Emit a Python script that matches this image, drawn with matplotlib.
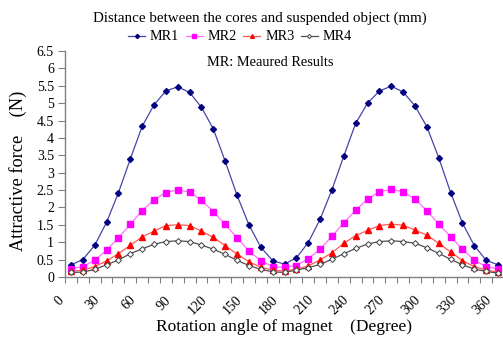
import matplotlib
matplotlib.use("Agg")
import matplotlib.pyplot as plt
import matplotlib.transforms as mtransforms
import numpy as np

plt.rcParams["font.family"] = ["Liberation Serif", "DejaVu Serif"]

# rotation angle in degrees, one category every 10 degrees
angles = list(range(0, 361, 10))
tick_labels = [str(a) if a % 30 == 0 else "" for a in angles]

mr1 = [0.35, 0.50, 0.91, 1.57, 2.42, 3.39, 4.33, 4.95, 5.35, 5.47, 5.31, 4.88, 4.26,
       3.33, 2.35, 1.50, 0.86, 0.47, 0.37, 0.55, 0.99, 1.66, 2.51, 3.48, 4.42, 5.00,
       5.35, 5.49, 5.32, 4.92, 4.32, 3.43, 2.43, 1.55, 0.90, 0.48, 0.35]
mr2 = [0.23, 0.30, 0.48, 0.77, 1.13, 1.51, 1.91, 2.22, 2.43, 2.51, 2.44, 2.21, 1.88,
       1.51, 1.13, 0.75, 0.47, 0.30, 0.28, 0.33, 0.52, 0.80, 1.17, 1.56, 1.92, 2.24,
       2.45, 2.52, 2.45, 2.24, 1.91, 1.52, 1.16, 0.80, 0.48, 0.30, 0.23]
mr3 = [0.17, 0.19, 0.30, 0.46, 0.67, 0.91, 1.15, 1.32, 1.48, 1.50, 1.48, 1.32, 1.14,
       0.90, 0.66, 0.44, 0.28, 0.20, 0.17, 0.22, 0.32, 0.49, 0.70, 0.97, 1.19, 1.34,
       1.48, 1.52, 1.49, 1.35, 1.20, 0.97, 0.72, 0.47, 0.30, 0.20, 0.14]
mr4 = [0.13, 0.14, 0.22, 0.35, 0.49, 0.67, 0.81, 0.94, 1.02, 1.04, 1.02, 0.92, 0.80,
       0.65, 0.48, 0.33, 0.22, 0.15, 0.13, 0.20, 0.27, 0.36, 0.51, 0.67, 0.82, 0.95,
       1.02, 1.04, 1.02, 0.97, 0.84, 0.68, 0.51, 0.35, 0.23, 0.16, 0.11]

W, H = 503, 337
fig = plt.figure(figsize=(W / 100, H / 100), dpi=100)
ax = fig.add_axes([65 / W, 60 / H, 439 / W, 226 / H])

x = np.arange(len(angles))
ax.plot(x, mr1, color="#4646a8", lw=0.9, marker="D", ms=3.0, mfc="#000080", mec="#000080", label="MR1")
ax.plot(x, mr2, color="#ff70ff", lw=0.9, marker="s", ms=3.8, mfc="#ff00ff", mec="#ff00ff", label="MR2")
ax.plot(x, mr3, color="#ff5a5a", lw=0.9, marker="^", ms=3.8, mfc="#ff0000", mec="#ff0000", label="MR3")
ax.plot(x, mr4, color="#505050", lw=0.9, marker="D", ms=3.0, mfc="white", mec="#404040", mew=0.7, label="MR4")

ax.set_xlim(-0.5, len(angles) - 0.5)
ax.set_ylim(0, 6.5)
ax.set_yticks(np.arange(0, 6.51, 0.5))
ax.set_yticklabels(["0"] + [f"{v:g}" for v in np.arange(0.5, 6.51, 0.5)], fontsize=10)

# labels sit on the categories, tick marks between them
lab_pos = [i for i, t in enumerate(tick_labels) if t]
ax.set_xticks(lab_pos)
ax.set_xticklabels([tick_labels[i] for i in lab_pos], rotation=45, ha="right", fontsize=10)
ax.set_xticks(np.arange(-0.5, len(angles)), minor=True)
ax.tick_params(axis="x", which="major", length=0, pad=12)
ax.tick_params(axis="x", which="minor", length=4, width=0.8, color="#808080")
ax.tick_params(axis="y", length=5, width=0.8, color="#808080", pad=3)
shift = mtransforms.ScaledTranslation(-4 / 100, 0, fig.dpi_scale_trans)
for lbl in ax.get_xticklabels():
    lbl.set_transform(lbl.get_transform() + shift)

for side in ("top", "right"):
    ax.spines[side].set_visible(False)
for side in ("left", "bottom"):
    ax.spines[side].set_color("#808080")
    ax.spines[side].set_linewidth(1.0)

ax.set_xlabel("Rotation angle of magnet\u3000(Degree)", fontsize=12.5, labelpad=0)
ax.xaxis.set_label_coords(0.5, -(327 - 277) / 226)
ax.xaxis.label.set_verticalalignment("center")
ax.set_ylabel("Attractive force\u3000(N)", fontsize=13.2)
ax.yaxis.set_label_coords(-(65 - 18) / 439, (277 - 171) / 226)
ax.yaxis.label.set_verticalalignment("center")
for lab in (ax.xaxis.label, ax.yaxis.label):
    lab.set_family(["Liberation Serif", "Noto Sans CJK JP", "DejaVu Sans"])

fig.text(260 / W, 1 - 18 / H, "Distance between the cores and suspended object (mm)",
         ha="center", va="center", fontsize=10.8)
fig.text(270 / W, 1 - 62 / H, "MR: Meaured Results", ha="center", va="center", fontsize=10.4)

fig.legend(loc="center", bbox_to_anchor=(240 / W, 1 - 37 / H), ncol=4, frameon=False,
           fontsize=10.2, handlelength=1.2, handletextpad=0.35, columnspacing=0.45,
           borderpad=0, markerscale=0.7)

fig.savefig("out.png", dpi=100)
